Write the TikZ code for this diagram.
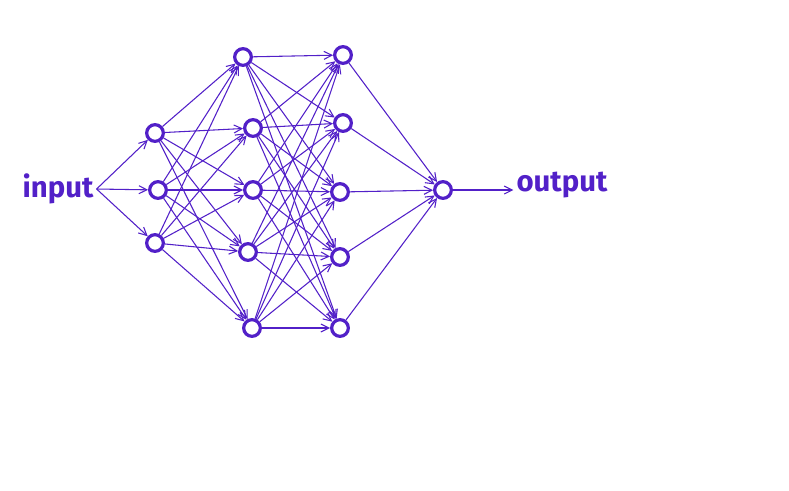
\documentclass[tikz,border=0pt]{standalone}
\usepackage{fontspec}
\setsansfont{Fira Sans}
\usetikzlibrary{arrows.meta}
\definecolor{ink}{RGB}{82,32,200}

\begin{document}
\begin{tikzpicture}
[x=0.75pt,y=-0.75pt,>={Straight Barb[length=6pt,width=6pt]},
 neuron/.style={draw=ink,circle,line width=2.4pt,minimum size=12.5pt,inner sep=0pt},
 every path/.style={color=ink,line width=0.8pt}]
\useasboundingbox (0,0) rectangle (789,490);
% Labels
\node(In)  [font=\sffamily\bfseries\fontsize{22}{24}\selectfont,text=ink,inner sep=2pt] at (58,189)  {input};
\node(Out) [font=\sffamily\bfseries\fontsize{22}{24}\selectfont,text=ink,inner sep=2pt] at (562,185) {output};

% Nodes of the network
\node(A1)[neuron] at (155,133) {};
\node(A2)[neuron] at (158,190) {};
\node(A3)[neuron] at (155,243) {};

\node(B1)[neuron] at (243,57)  {};
\node(B2)[neuron] at (253,128) {};
\node(B3)[neuron] at (253,190) {};
\node(B4)[neuron] at (248,252) {};
\node(B5)[neuron] at (252,328) {};

\node(C1)[neuron] at (343,55)  {};
\node(C2)[neuron] at (343,123) {};
\node(C3)[neuron] at (340,192) {};
\node(C4)[neuron] at (340,257) {};
\node(C5)[neuron] at (340,328) {};

\node(O)[neuron] at (443,190) {};

% input layer
\draw[->] (In.east) to (A1); \draw[->] (In.east) to (A2); \draw[->] (In.east) to (A3);

% first hidden layer
\draw[->] (A1) to (B1); \draw[->] (A1) to (B2); \draw[->] (A1) to (B3); \draw[->] (A1) to (B4); \draw[->] (A1) to (B5);
\draw[->] (A2) to (B1); \draw[->] (A2) to (B2); \draw[->] (A2) to (B3); \draw[->] (A2) to (B4); \draw[->] (A2) to (B5);
\draw[->] (A3) to (B1); \draw[->] (A3) to (B2); \draw[->] (A3) to (B3); \draw[->] (A3) to (B4); \draw[->] (A3) to (B5);

% second hidden layer
\draw[->] (B1) to (C1); \draw[->] (B1) to (C2); \draw[->] (B1) to (C3); \draw[->] (B1) to (C4); \draw[->] (B1) to (C5);
\draw[->] (B2) to (C1); \draw[->] (B2) to (C2); \draw[->] (B2) to (C3); \draw[->] (B2) to (C4); \draw[->] (B2) to (C5);
\draw[->] (B3) to (C1); \draw[->] (B3) to (C2); \draw[->] (B3) to (C3); \draw[->] (B3) to (C4); \draw[->] (B3) to (C5);
\draw[->] (B4) to (C1); \draw[->] (B4) to (C2); \draw[->] (B4) to (C3); \draw[->] (B4) to (C4); \draw[->] (B4) to (C5);
\draw[->] (B5) to (C1); \draw[->] (B5) to (C2); \draw[->] (B5) to (C3); \draw[->] (B5) to (C4); \draw[->] (B5) to (C5);

% output
\draw[->] (C1) to (O); \draw[->] (C2) to (O); \draw[->] (C3) to (O); \draw[->] (C4) to (O); \draw[->] (C5) to (O);
\draw[->] (O) to (O -| Out.west);
\end{tikzpicture}
\end{document}
